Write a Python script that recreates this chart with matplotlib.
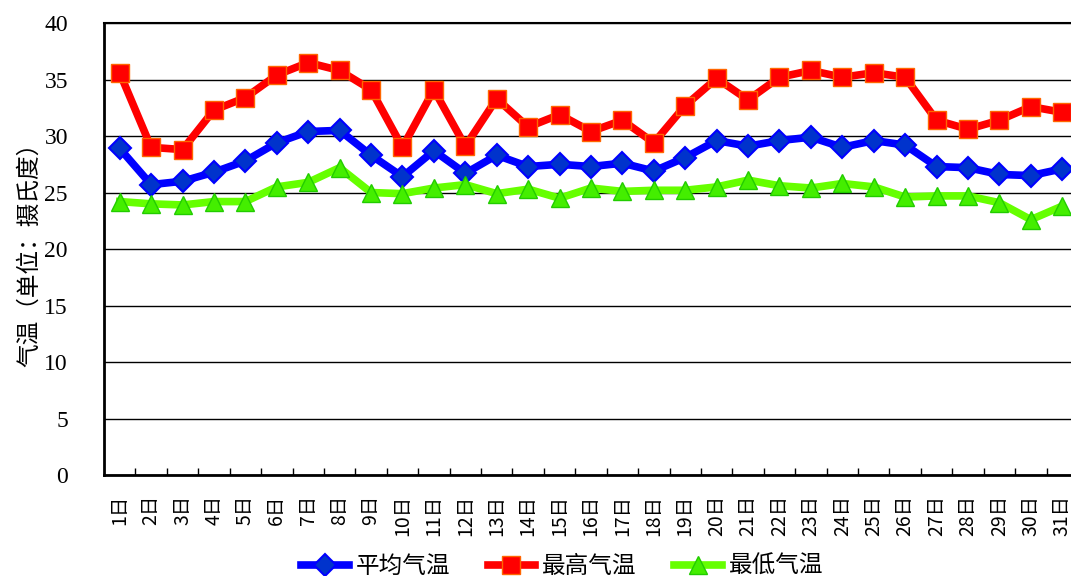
import numpy as np
import matplotlib
matplotlib.use("Agg")
import matplotlib.pyplot as plt

plt.rcParams['font.family'] = ['Liberation Serif', 'Noto Sans CJK SC', 'DejaVu Sans']

days = [str(d) + "日" for d in range(1, 32)]

avg_temp = [28.9, 25.7, 26.0, 26.8, 27.8, 29.4, 30.4, 30.5, 28.3, 26.4,
            28.7, 26.7, 28.3, 27.3, 27.5, 27.3, 27.6, 26.9, 28.1, 29.6,
            29.1, 29.6, 29.9, 29.0, 29.6, 29.2, 27.3, 27.2, 26.6, 26.5, 27.1]
max_temp = [35.6, 29.0, 28.8, 32.3, 33.4, 35.4, 36.5, 35.8, 34.1, 29.0,
            34.1, 29.1, 33.3, 30.8, 31.9, 30.4, 31.4, 29.4, 32.7, 35.1,
            33.2, 35.2, 35.8, 35.2, 35.6, 35.2, 31.4, 30.6, 31.4, 32.6, 32.1]
min_temp = [24.2, 24.0, 23.9, 24.2, 24.2, 25.5, 25.9, 27.2, 25.0, 24.9,
            25.4, 25.7, 24.9, 25.3, 24.5, 25.4, 25.1, 25.2, 25.2, 25.5,
            26.1, 25.6, 25.4, 25.8, 25.5, 24.6, 24.7, 24.7, 24.1, 22.6, 23.8]

x = np.arange(1, 32)

fig = plt.figure(figsize=(10.71, 5.76), dpi=100)
ax = fig.add_axes([0.0971, 0.1753, 0.9094, 0.7847])

ax.plot(x, avg_temp, color='#0000ff', lw=5.5, marker='D', markersize=11,
        markerfacecolor='#0033cc', markeredgecolor='#0000ff', markeredgewidth=1.5,
        label='平均气温', zorder=3)
ax.plot(x, max_temp, color='#ff0000', lw=5.5, marker='s', markersize=13,
        markerfacecolor='#ff0000', markeredgecolor='#ff6600', markeredgewidth=1,
        label='最高气温', zorder=3)
ax.plot(x, min_temp, color='#66ff00', lw=5.5, marker='^', markersize=13,
        markerfacecolor='#44ee00', markeredgecolor='#22cc00', markeredgewidth=1,
        label='最低气温', zorder=3)

ax.set_xlim(0.5, 31.5)
ax.set_ylim(0, 40)
ax.set_yticks(np.arange(0, 41, 5))
ax.yaxis.grid(True, color='black', lw=1)
ax.set_axisbelow(True)
ax.tick_params(axis='y', length=0, labelsize=17, pad=26)

ax.set_xticks(x)
ax.set_xticklabels(days, rotation=90, fontsize=14, family=['Noto Sans CJK SC'])
ax.set_xticks(np.arange(1.5, 31.5, 1), minor=True)
ax.tick_params(axis='x', which='major', length=0, pad=14)
ax.tick_params(axis='x', which='minor', direction='in', length=5, width=1)

for s in ax.spines.values():
    s.set_linewidth(1.5)
    s.set_color('black')
ax.spines['left'].set_linewidth(2)
ax.spines['bottom'].set_linewidth(2)

ax.set_ylabel('气温（单位：摄氏度）', fontsize=17, family=['Noto Sans CJK SC'], labelpad=2)

fig.legend(loc='lower center', bbox_to_anchor=(0.525, -0.04), ncol=3, frameon=False,
           handlelength=2.0, columnspacing=1.6, handletextpad=0.3,
           prop={'family': ['Noto Sans CJK SC'], 'size': 17})

fig.savefig('out.png', dpi=100)
